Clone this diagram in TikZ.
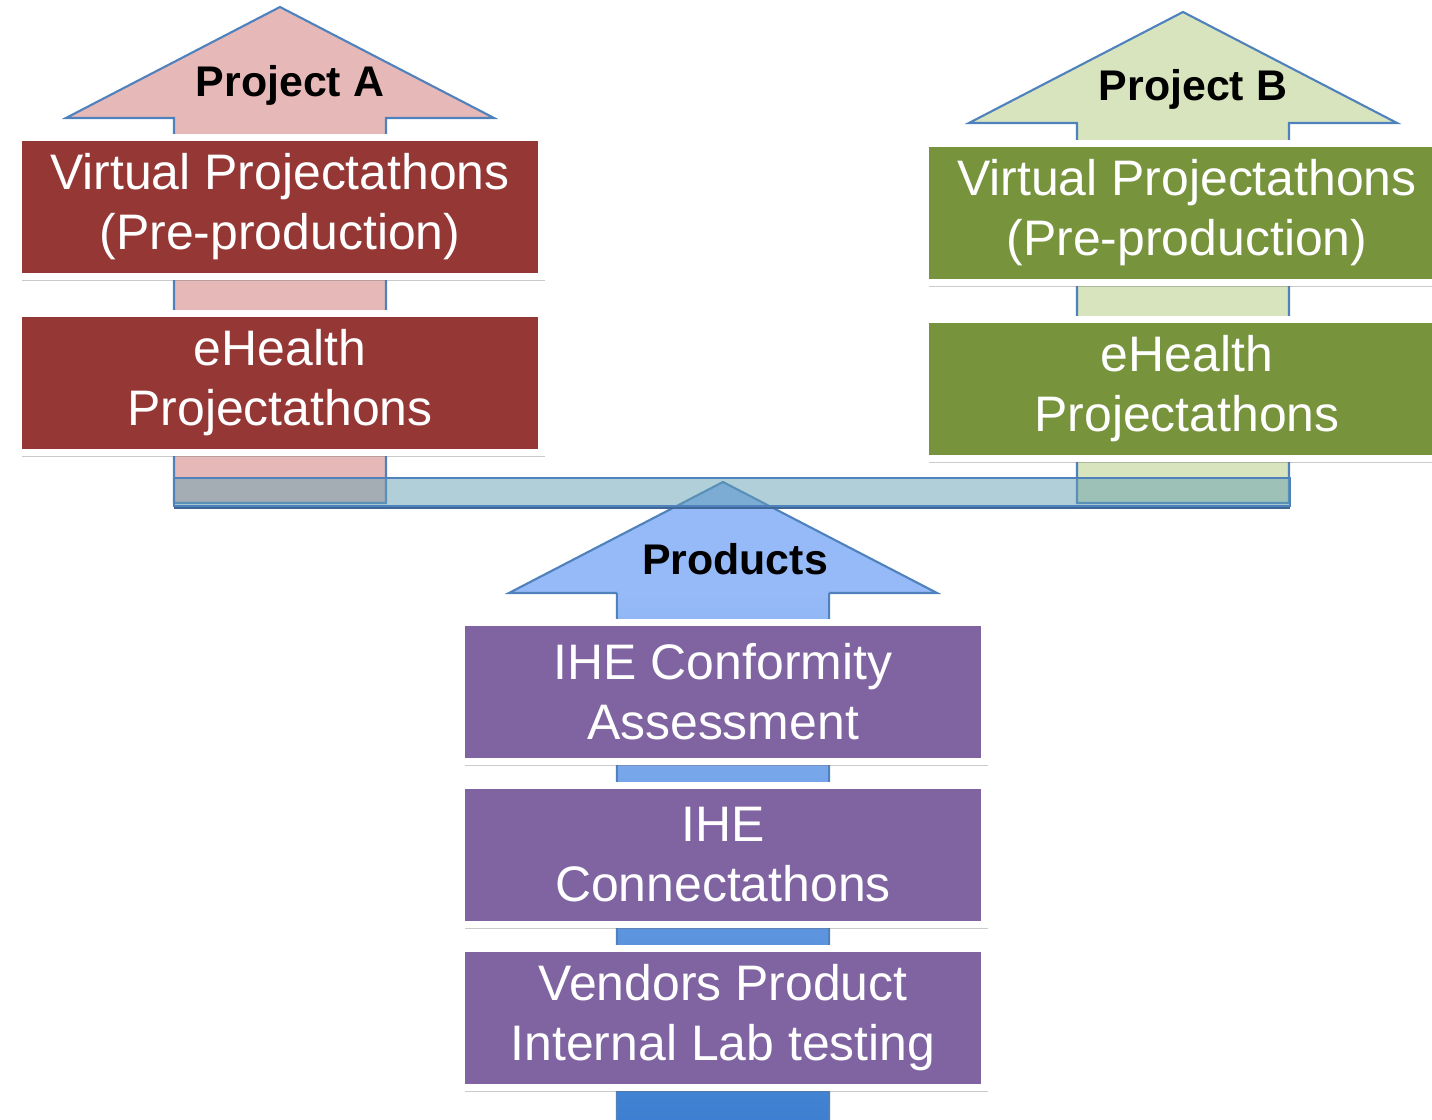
\documentclass[tikz,border=0pt]{standalone}
\usepackage{fontspec}
\setmainfont{Liberation Sans}
\usetikzlibrary{shadows}
\definecolor{outline}{RGB}{79,129,189}
\definecolor{pinkhead}{RGB}{230,185,184}
\definecolor{greenhead}{RGB}{215,228,189}
\definecolor{prodhead}{RGB}{150,186,247}
\definecolor{prodbot}{RGB}{60,126,208}
\definecolor{redbox}{RGB}{149,55,53}
\definecolor{greenbox}{RGB}{119,147,60}
\definecolor{purplebox}{RGB}{128,100,162}
\definecolor{barcol}{RGB}{100,160,178}
\tikzset{
	arrowline/.style={draw=outline, line width=0.6pt},
	box/.style={rectangle, draw=white, line width=2pt, minimum width=52.3mm, minimum height=13.9mm,
		inner sep=0pt, text=white, align=center, font=\fontsize{14.2}{17.1}\selectfont,
		drop shadow={shadow xshift=1pt, shadow yshift=-1.3pt, opacity=0.35, fill=black!60}},
	head/.style={font=\bfseries\fontsize{12.2}{14}\selectfont}
}
\def\blockarrow[#1](#2,#3)(#4){\draw[#1] ({#2-214},{#3+111}) -- (#2,#3) -- ({#2+214},{#3+111}) -- ({#2+106},{#3+111}) -- ({#2+106},#4) -- ({#2-106},#4) -- ({#2-106},{#3+111}) -- cycle;}

\begin{document}
\begin{tikzpicture}[x=0.1mm, y=-0.1mm]
				\useasboundingbox (0,0) rectangle (1432,1120);
				\clip (0,0) rectangle (1432,1120);
				
				% the three arrows
				\blockarrow[arrowline, fill=pinkhead](280,7)(503);
				\blockarrow[arrowline, fill=greenhead](1183,12)(503);
				\blockarrow[arrowline, fill=prodhead](723,482)(1130);
				\shade[top color=prodhead, bottom color=prodbot] (617,593) rectangle (829,1130);
				\draw[arrowline] (617,593) -- (617,1130);
				\draw[arrowline] (829,593) -- (829,1130);
				
				% the bar
				\draw[draw=outline, line width=0.8pt, fill=barcol, fill opacity=0.5] (174,478) rectangle (1290,506);
				\draw[draw=outline!80!black, line width=0.5pt] (174,508) -- (1290,508);
				
				\node[head] (projA) at (290,85) {Project A};
				\node[head] (projB) at (1193,89) {Project B};
				\node[head] (products) at (735,559) {Products};
				
				\node[box, fill=redbox] (virtA) at (280,207) {Virtual Projectathons\\(Pre-production)};
				\node[box, fill=redbox] (ehealthA) at (280,383) {eHealth\\Projectathons};
				\node[box, fill=greenbox] (virtB) at (1187,213) {Virtual Projectathons\\(Pre-production)};
				\node[box, fill=greenbox] (ehealthB) at (1187,389) {eHealth\\Projectathons};
				
				\node[box, fill=purplebox] (conform) at (723,692) {IHE Conformity\\Assessment};
				\node[box, fill=purplebox] (connect) at (723,855) {IHE\\Connectathons};
				\node[box, fill=purplebox] (vendors) at (723,1018) {Vendors Product\\Internal Lab testing};
			\end{tikzpicture}
\end{document}
